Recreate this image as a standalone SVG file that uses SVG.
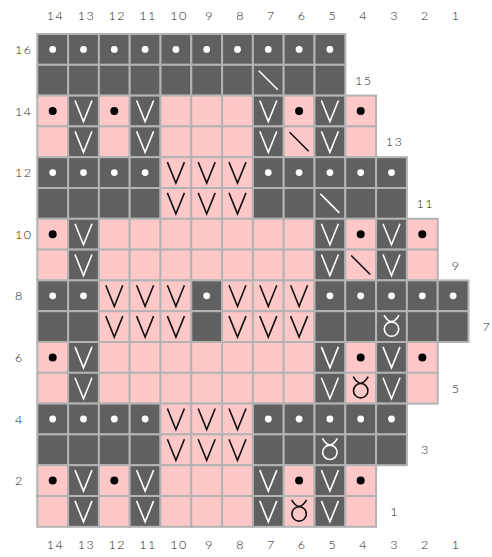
<svg xmlns="http://www.w3.org/2000/svg" xmlns:xlink="http://www.w3.org/1999/xlink" width="492" height="557" viewBox="0 0 492 557">
<style>
.d{fill:#606060;stroke:#b3b3b3;stroke-width:2}
.p{fill:#ffc8c8;stroke:#b3b3b3;stroke-width:2}
.w{fill:none;stroke:#fff;stroke-width:1.6}
.k{fill:none;stroke:#111;stroke-width:1.6}
.lab{font-family:"Lato","Liberation Sans",sans-serif;font-size:12.5px;font-weight:300;fill:#222;letter-spacing:1.5px}
.m{text-anchor:middle}
</style>
<defs>
<circle id="dw" r="3.4" fill="#fff"/>
<circle id="db" r="4" fill="#000"/>
<path id="vw" class="w" d="M-8.5,-10.5 L0,10.5 L8.5,-10.5"/>
<path id="vb" class="k" d="M-8.5,-10.5 L0,10.5 L8.5,-10.5"/>
<path id="sw" class="w" d="M-9.5,-9.5 L9.5,9.5"/>
<path id="sb" class="k" d="M-9.5,-9.5 L9.5,9.5"/>
<g id="tw" class="w"><circle cy="2.5" r="7.2"/><path d="M-7.5,-11.5 Q0,1.5 7.5,-11.5"/></g>
<g id="tb" class="k"><circle cy="2.5" r="7.2"/><path d="M-7.5,-11.5 Q0,1.5 7.5,-11.5"/></g>
</defs>

<g id="col-labels-top" class="lab m">
<text x="55.5" y="20">14</text><text x="86.5" y="20">13</text><text x="117.3" y="20">12</text><text x="148.1" y="20">11</text><text x="178.9" y="20">10</text><text x="209.7" y="20">9</text><text x="240.5" y="20">8</text><text x="271.3" y="20">7</text><text x="302.1" y="20">6</text><text x="332.9" y="20">5</text><text x="363.7" y="20">4</text><text x="394.5" y="20">3</text><text x="425.3" y="20">2</text><text x="456.1" y="20">1</text>
</g>
<g id="col-labels-bottom" class="lab m">
<text x="55.5" y="549">14</text><text x="86.5" y="549">13</text><text x="117.3" y="549">12</text><text x="148.1" y="549">11</text><text x="178.9" y="549">10</text><text x="209.7" y="549">9</text><text x="240.5" y="549">8</text><text x="271.3" y="549">7</text><text x="302.1" y="549">6</text><text x="332.9" y="549">5</text><text x="363.7" y="549">4</text><text x="394.5" y="549">3</text><text x="425.3" y="549">2</text><text x="456.1" y="549">1</text>
</g>
<g id="row-labels-left" class="lab">
<text x="15" y="54">16</text><text x="15" y="115.5">14</text><text x="15" y="177">12</text><text x="15" y="238.7">10</text><text x="15" y="300.3">8</text><text x="15" y="362">6</text><text x="15" y="423.5">4</text><text x="15" y="485">2</text>
</g>
<g id="row-labels-right" class="lab m">
<text x="363.7" y="84.7">15</text><text x="394.5" y="146.3">13</text><text x="425.3" y="208">11</text><text x="456.1" y="269.5">9</text><text x="486.9" y="331">7</text><text x="456.1" y="392.7">5</text><text x="425.3" y="454.3">3</text><text x="394.5" y="516">1</text>
</g>

<g id="row16" transform="translate(0,34)">
<rect class="d" x="37.3" width="30.8" height="30.8"/><rect class="d" x="68.1" width="30.8" height="30.8"/><rect class="d" x="98.9" width="30.8" height="30.8"/><rect class="d" x="129.7" width="30.8" height="30.8"/><rect class="d" x="160.5" width="30.8" height="30.8"/><rect class="d" x="191.3" width="30.8" height="30.8"/><rect class="d" x="222.1" width="30.8" height="30.8"/><rect class="d" x="252.9" width="30.8" height="30.8"/><rect class="d" x="283.7" width="30.8" height="30.8"/><rect class="d" x="314.5" width="30.8" height="30.8"/>
<use href="#dw" x="52.7" y="15.4"/><use href="#dw" x="83.5" y="15.4"/><use href="#dw" x="114.3" y="15.4"/><use href="#dw" x="145.1" y="15.4"/><use href="#dw" x="175.9" y="15.4"/><use href="#dw" x="206.7" y="15.4"/><use href="#dw" x="237.5" y="15.4"/><use href="#dw" x="268.3" y="15.4"/><use href="#dw" x="299.1" y="15.4"/><use href="#dw" x="329.9" y="15.4"/>
</g>

<g id="row15" transform="translate(0,64.8)">
<rect class="d" x="37.3" width="30.8" height="30.8"/><rect class="d" x="68.1" width="30.8" height="30.8"/><rect class="d" x="98.9" width="30.8" height="30.8"/><rect class="d" x="129.7" width="30.8" height="30.8"/><rect class="d" x="160.5" width="30.8" height="30.8"/><rect class="d" x="191.3" width="30.8" height="30.8"/><rect class="d" x="222.1" width="30.8" height="30.8"/><rect class="d" x="252.9" width="30.8" height="30.8"/><rect class="d" x="283.7" width="30.8" height="30.8"/><rect class="d" x="314.5" width="30.8" height="30.8"/>
<use href="#sw" x="268.3" y="15.4"/>
</g>

<g id="row14" transform="translate(0,95.6)">
<rect class="p" x="37.3" width="30.8" height="30.8"/><rect class="d" x="68.1" width="30.8" height="30.8"/><rect class="p" x="98.9" width="30.8" height="30.8"/><rect class="d" x="129.7" width="30.8" height="30.8"/><rect class="p" x="160.5" width="30.8" height="30.8"/><rect class="p" x="191.3" width="30.8" height="30.8"/><rect class="p" x="222.1" width="30.8" height="30.8"/><rect class="d" x="252.9" width="30.8" height="30.8"/><rect class="p" x="283.7" width="30.8" height="30.8"/><rect class="d" x="314.5" width="30.8" height="30.8"/><rect class="p" x="345.3" width="30.8" height="30.8"/>
<use href="#db" x="52.7" y="15.4"/><use href="#vw" x="83.5" y="15.4"/><use href="#db" x="114.3" y="15.4"/><use href="#vw" x="145.1" y="15.4"/><use href="#vw" x="268.3" y="15.4"/><use href="#db" x="299.1" y="15.4"/><use href="#vw" x="329.9" y="15.4"/><use href="#db" x="360.7" y="15.4"/>
</g>

<g id="row13" transform="translate(0,126.4)">
<rect class="p" x="37.3" width="30.8" height="30.8"/><rect class="d" x="68.1" width="30.8" height="30.8"/><rect class="p" x="98.9" width="30.8" height="30.8"/><rect class="d" x="129.7" width="30.8" height="30.8"/><rect class="p" x="160.5" width="30.8" height="30.8"/><rect class="p" x="191.3" width="30.8" height="30.8"/><rect class="p" x="222.1" width="30.8" height="30.8"/><rect class="d" x="252.9" width="30.8" height="30.8"/><rect class="p" x="283.7" width="30.8" height="30.8"/><rect class="d" x="314.5" width="30.8" height="30.8"/><rect class="p" x="345.3" width="30.8" height="30.8"/>
<use href="#vw" x="83.5" y="15.4"/><use href="#vw" x="145.1" y="15.4"/><use href="#vw" x="268.3" y="15.4"/><use href="#sb" x="299.1" y="15.4"/><use href="#vw" x="329.9" y="15.4"/>
</g>

<g id="row12" transform="translate(0,157.2)">
<rect class="d" x="37.3" width="30.8" height="30.8"/><rect class="d" x="68.1" width="30.8" height="30.8"/><rect class="d" x="98.9" width="30.8" height="30.8"/><rect class="d" x="129.7" width="30.8" height="30.8"/><rect class="p" x="160.5" width="30.8" height="30.8"/><rect class="p" x="191.3" width="30.8" height="30.8"/><rect class="p" x="222.1" width="30.8" height="30.8"/><rect class="d" x="252.9" width="30.8" height="30.8"/><rect class="d" x="283.7" width="30.8" height="30.8"/><rect class="d" x="314.5" width="30.8" height="30.8"/><rect class="d" x="345.3" width="30.8" height="30.8"/><rect class="d" x="376.1" width="30.8" height="30.8"/>
<use href="#dw" x="52.7" y="15.4"/><use href="#dw" x="83.5" y="15.4"/><use href="#dw" x="114.3" y="15.4"/><use href="#dw" x="145.1" y="15.4"/><use href="#vb" x="175.9" y="15.4"/><use href="#vb" x="206.7" y="15.4"/><use href="#vb" x="237.5" y="15.4"/><use href="#dw" x="268.3" y="15.4"/><use href="#dw" x="299.1" y="15.4"/><use href="#dw" x="329.9" y="15.4"/><use href="#dw" x="360.7" y="15.4"/><use href="#dw" x="391.5" y="15.4"/>
</g>

<g id="row11" transform="translate(0,188)">
<rect class="d" x="37.3" width="30.8" height="30.8"/><rect class="d" x="68.1" width="30.8" height="30.8"/><rect class="d" x="98.9" width="30.8" height="30.8"/><rect class="d" x="129.7" width="30.8" height="30.8"/><rect class="p" x="160.5" width="30.8" height="30.8"/><rect class="p" x="191.3" width="30.8" height="30.8"/><rect class="p" x="222.1" width="30.8" height="30.8"/><rect class="d" x="252.9" width="30.8" height="30.8"/><rect class="d" x="283.7" width="30.8" height="30.8"/><rect class="d" x="314.5" width="30.8" height="30.8"/><rect class="d" x="345.3" width="30.8" height="30.8"/><rect class="d" x="376.1" width="30.8" height="30.8"/>
<use href="#vb" x="175.9" y="15.4"/><use href="#vb" x="206.7" y="15.4"/><use href="#vb" x="237.5" y="15.4"/><use href="#sw" x="329.9" y="15.4"/>
</g>

<g id="row10" transform="translate(0,218.8)">
<rect class="p" x="37.3" width="30.8" height="30.8"/><rect class="d" x="68.1" width="30.8" height="30.8"/><rect class="p" x="98.9" width="30.8" height="30.8"/><rect class="p" x="129.7" width="30.8" height="30.8"/><rect class="p" x="160.5" width="30.8" height="30.8"/><rect class="p" x="191.3" width="30.8" height="30.8"/><rect class="p" x="222.1" width="30.8" height="30.8"/><rect class="p" x="252.9" width="30.8" height="30.8"/><rect class="p" x="283.7" width="30.8" height="30.8"/><rect class="d" x="314.5" width="30.8" height="30.8"/><rect class="p" x="345.3" width="30.8" height="30.8"/><rect class="d" x="376.1" width="30.8" height="30.8"/><rect class="p" x="406.9" width="30.8" height="30.8"/>
<use href="#db" x="52.7" y="15.4"/><use href="#vw" x="83.5" y="15.4"/><use href="#vw" x="329.9" y="15.4"/><use href="#db" x="360.7" y="15.4"/><use href="#vw" x="391.5" y="15.4"/><use href="#db" x="422.3" y="15.4"/>
</g>

<g id="row9" transform="translate(0,249.6)">
<rect class="p" x="37.3" width="30.8" height="30.8"/><rect class="d" x="68.1" width="30.8" height="30.8"/><rect class="p" x="98.9" width="30.8" height="30.8"/><rect class="p" x="129.7" width="30.8" height="30.8"/><rect class="p" x="160.5" width="30.8" height="30.8"/><rect class="p" x="191.3" width="30.8" height="30.8"/><rect class="p" x="222.1" width="30.8" height="30.8"/><rect class="p" x="252.9" width="30.8" height="30.8"/><rect class="p" x="283.7" width="30.8" height="30.8"/><rect class="d" x="314.5" width="30.8" height="30.8"/><rect class="p" x="345.3" width="30.8" height="30.8"/><rect class="d" x="376.1" width="30.8" height="30.8"/><rect class="p" x="406.9" width="30.8" height="30.8"/>
<use href="#vw" x="83.5" y="15.4"/><use href="#vw" x="329.9" y="15.4"/><use href="#sb" x="360.7" y="15.4"/><use href="#vw" x="391.5" y="15.4"/>
</g>

<g id="row8" transform="translate(0,280.4)">
<rect class="d" x="37.3" width="30.8" height="30.8"/><rect class="d" x="68.1" width="30.8" height="30.8"/><rect class="p" x="98.9" width="30.8" height="30.8"/><rect class="p" x="129.7" width="30.8" height="30.8"/><rect class="p" x="160.5" width="30.8" height="30.8"/><rect class="d" x="191.3" width="30.8" height="30.8"/><rect class="p" x="222.1" width="30.8" height="30.8"/><rect class="p" x="252.9" width="30.8" height="30.8"/><rect class="p" x="283.7" width="30.8" height="30.8"/><rect class="d" x="314.5" width="30.8" height="30.8"/><rect class="d" x="345.3" width="30.8" height="30.8"/><rect class="d" x="376.1" width="30.8" height="30.8"/><rect class="d" x="406.9" width="30.8" height="30.8"/><rect class="d" x="437.7" width="30.8" height="30.8"/>
<use href="#dw" x="52.7" y="15.4"/><use href="#dw" x="83.5" y="15.4"/><use href="#vb" x="114.3" y="15.4"/><use href="#vb" x="145.1" y="15.4"/><use href="#vb" x="175.9" y="15.4"/><use href="#dw" x="206.7" y="15.4"/><use href="#vb" x="237.5" y="15.4"/><use href="#vb" x="268.3" y="15.4"/><use href="#vb" x="299.1" y="15.4"/><use href="#dw" x="329.9" y="15.4"/><use href="#dw" x="360.7" y="15.4"/><use href="#dw" x="391.5" y="15.4"/><use href="#dw" x="422.3" y="15.4"/><use href="#dw" x="453.1" y="15.4"/>
</g>

<g id="row7" transform="translate(0,311.2)">
<rect class="d" x="37.3" width="30.8" height="30.8"/><rect class="d" x="68.1" width="30.8" height="30.8"/><rect class="p" x="98.9" width="30.8" height="30.8"/><rect class="p" x="129.7" width="30.8" height="30.8"/><rect class="p" x="160.5" width="30.8" height="30.8"/><rect class="d" x="191.3" width="30.8" height="30.8"/><rect class="p" x="222.1" width="30.8" height="30.8"/><rect class="p" x="252.9" width="30.8" height="30.8"/><rect class="p" x="283.7" width="30.8" height="30.8"/><rect class="d" x="314.5" width="30.8" height="30.8"/><rect class="d" x="345.3" width="30.8" height="30.8"/><rect class="d" x="376.1" width="30.8" height="30.8"/><rect class="d" x="406.9" width="30.8" height="30.8"/><rect class="d" x="437.7" width="30.8" height="30.8"/>
<use href="#vb" x="114.3" y="15.4"/><use href="#vb" x="145.1" y="15.4"/><use href="#vb" x="175.9" y="15.4"/><use href="#vb" x="237.5" y="15.4"/><use href="#vb" x="268.3" y="15.4"/><use href="#vb" x="299.1" y="15.4"/><use href="#tw" x="391.5" y="15.4"/>
</g>

<g id="row6" transform="translate(0,342)">
<rect class="p" x="37.3" width="30.8" height="30.8"/><rect class="d" x="68.1" width="30.8" height="30.8"/><rect class="p" x="98.9" width="30.8" height="30.8"/><rect class="p" x="129.7" width="30.8" height="30.8"/><rect class="p" x="160.5" width="30.8" height="30.8"/><rect class="p" x="191.3" width="30.8" height="30.8"/><rect class="p" x="222.1" width="30.8" height="30.8"/><rect class="p" x="252.9" width="30.8" height="30.8"/><rect class="p" x="283.7" width="30.8" height="30.8"/><rect class="d" x="314.5" width="30.8" height="30.8"/><rect class="p" x="345.3" width="30.8" height="30.8"/><rect class="d" x="376.1" width="30.8" height="30.8"/><rect class="p" x="406.9" width="30.8" height="30.8"/>
<use href="#db" x="52.7" y="15.4"/><use href="#vw" x="83.5" y="15.4"/><use href="#vw" x="329.9" y="15.4"/><use href="#db" x="360.7" y="15.4"/><use href="#vw" x="391.5" y="15.4"/><use href="#db" x="422.3" y="15.4"/>
</g>

<g id="row5" transform="translate(0,372.8)">
<rect class="p" x="37.3" width="30.8" height="30.8"/><rect class="d" x="68.1" width="30.8" height="30.8"/><rect class="p" x="98.9" width="30.8" height="30.8"/><rect class="p" x="129.7" width="30.8" height="30.8"/><rect class="p" x="160.5" width="30.8" height="30.8"/><rect class="p" x="191.3" width="30.8" height="30.8"/><rect class="p" x="222.1" width="30.8" height="30.8"/><rect class="p" x="252.9" width="30.8" height="30.8"/><rect class="p" x="283.7" width="30.8" height="30.8"/><rect class="d" x="314.5" width="30.8" height="30.8"/><rect class="p" x="345.3" width="30.8" height="30.8"/><rect class="d" x="376.1" width="30.8" height="30.8"/><rect class="p" x="406.9" width="30.8" height="30.8"/>
<use href="#vw" x="83.5" y="15.4"/><use href="#vw" x="329.9" y="15.4"/><use href="#tb" x="360.7" y="15.4"/><use href="#vw" x="391.5" y="15.4"/>
</g>

<g id="row4" transform="translate(0,403.6)">
<rect class="d" x="37.3" width="30.8" height="30.8"/><rect class="d" x="68.1" width="30.8" height="30.8"/><rect class="d" x="98.9" width="30.8" height="30.8"/><rect class="d" x="129.7" width="30.8" height="30.8"/><rect class="p" x="160.5" width="30.8" height="30.8"/><rect class="p" x="191.3" width="30.8" height="30.8"/><rect class="p" x="222.1" width="30.8" height="30.8"/><rect class="d" x="252.9" width="30.8" height="30.8"/><rect class="d" x="283.7" width="30.8" height="30.8"/><rect class="d" x="314.5" width="30.8" height="30.8"/><rect class="d" x="345.3" width="30.8" height="30.8"/><rect class="d" x="376.1" width="30.8" height="30.8"/>
<use href="#dw" x="52.7" y="15.4"/><use href="#dw" x="83.5" y="15.4"/><use href="#dw" x="114.3" y="15.4"/><use href="#dw" x="145.1" y="15.4"/><use href="#vb" x="175.9" y="15.4"/><use href="#vb" x="206.7" y="15.4"/><use href="#vb" x="237.5" y="15.4"/><use href="#dw" x="268.3" y="15.4"/><use href="#dw" x="299.1" y="15.4"/><use href="#dw" x="329.9" y="15.4"/><use href="#dw" x="360.7" y="15.4"/><use href="#dw" x="391.5" y="15.4"/>
</g>

<g id="row3" transform="translate(0,434.4)">
<rect class="d" x="37.3" width="30.8" height="30.8"/><rect class="d" x="68.1" width="30.8" height="30.8"/><rect class="d" x="98.9" width="30.8" height="30.8"/><rect class="d" x="129.7" width="30.8" height="30.8"/><rect class="p" x="160.5" width="30.8" height="30.8"/><rect class="p" x="191.3" width="30.8" height="30.8"/><rect class="p" x="222.1" width="30.8" height="30.8"/><rect class="d" x="252.9" width="30.8" height="30.8"/><rect class="d" x="283.7" width="30.8" height="30.8"/><rect class="d" x="314.5" width="30.8" height="30.8"/><rect class="d" x="345.3" width="30.8" height="30.8"/><rect class="d" x="376.1" width="30.8" height="30.8"/>
<use href="#vb" x="175.9" y="15.4"/><use href="#vb" x="206.7" y="15.4"/><use href="#vb" x="237.5" y="15.4"/><use href="#tw" x="329.9" y="15.4"/>
</g>

<g id="row2" transform="translate(0,465.2)">
<rect class="p" x="37.3" width="30.8" height="30.8"/><rect class="d" x="68.1" width="30.8" height="30.8"/><rect class="p" x="98.9" width="30.8" height="30.8"/><rect class="d" x="129.7" width="30.8" height="30.8"/><rect class="p" x="160.5" width="30.8" height="30.8"/><rect class="p" x="191.3" width="30.8" height="30.8"/><rect class="p" x="222.1" width="30.8" height="30.8"/><rect class="d" x="252.9" width="30.8" height="30.8"/><rect class="p" x="283.7" width="30.8" height="30.8"/><rect class="d" x="314.5" width="30.8" height="30.8"/><rect class="p" x="345.3" width="30.8" height="30.8"/>
<use href="#db" x="52.7" y="15.4"/><use href="#vw" x="83.5" y="15.4"/><use href="#db" x="114.3" y="15.4"/><use href="#vw" x="145.1" y="15.4"/><use href="#vw" x="268.3" y="15.4"/><use href="#db" x="299.1" y="15.4"/><use href="#vw" x="329.9" y="15.4"/><use href="#db" x="360.7" y="15.4"/>
</g>

<g id="row1" transform="translate(0,496)">
<rect class="p" x="37.3" width="30.8" height="30.8"/><rect class="d" x="68.1" width="30.8" height="30.8"/><rect class="p" x="98.9" width="30.8" height="30.8"/><rect class="d" x="129.7" width="30.8" height="30.8"/><rect class="p" x="160.5" width="30.8" height="30.8"/><rect class="p" x="191.3" width="30.8" height="30.8"/><rect class="p" x="222.1" width="30.8" height="30.8"/><rect class="d" x="252.9" width="30.8" height="30.8"/><rect class="p" x="283.7" width="30.8" height="30.8"/><rect class="d" x="314.5" width="30.8" height="30.8"/><rect class="p" x="345.3" width="30.8" height="30.8"/>
<use href="#vw" x="83.5" y="15.4"/><use href="#vw" x="145.1" y="15.4"/><use href="#vw" x="268.3" y="15.4"/><use href="#tb" x="299.1" y="15.4"/><use href="#vw" x="329.9" y="15.4"/>
</g>
</svg>
